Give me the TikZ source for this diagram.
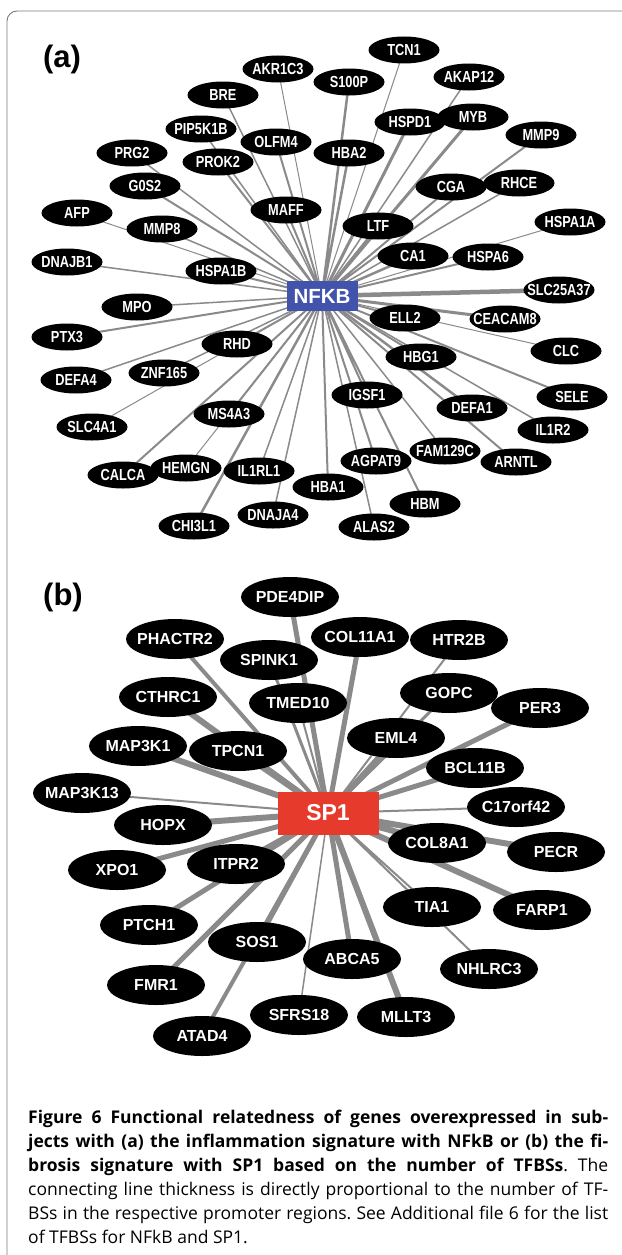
\documentclass[tikz,border=0pt]{standalone}
\usepackage{fontspec}
\usepackage{tikz}
\usetikzlibrary{shapes.geometric,backgrounds}
\newfontfamily\genefont{Liberation Sans}
\newfontfamily\narrowgenefont{Liberation Sans}[FakeStretch=0.8]
\newfontfamily\capfont{Open Sans}
\definecolor{linkgray}{HTML}{8A8A8A}
\definecolor{framegray}{HTML}{7A7A7A}
\definecolor{nfkbblue}{HTML}{4253AC}
\definecolor{spred}{HTML}{E63B2C}
\tikzset{
	gene/.style={ellipse,fill=black,text=white,inner sep=0pt,minimum width=71pt,minimum height=27pt,
		font=\narrowgenefont\bfseries\fontsize{16}{16}\selectfont,
		execute at begin node={\hbox to 0pt\bgroup\hss},execute at end node={\hss\egroup}},
	bgene/.style={ellipse,fill=black,text=white,inner sep=0pt,minimum width=98pt,minimum height=40pt,
		font=\genefont\bfseries\fontsize{16}{16}\selectfont,
		execute at begin node={\hbox to 0pt\bgroup\hss},execute at end node={\hss\egroup}},
	tf/.style 2 args={rectangle,fill=#1,text=white,inner sep=0pt,font=\genefont\bfseries\fontsize{#2}{#2}\selectfont},
	link/.style={draw=linkgray,line width=#1},
	panel/.style={font=\genefont\bfseries\fontsize{31}{31}\selectfont,inner sep=0pt}
}

\begin{document}
\begin{tikzpicture}[x=1pt,y=-1pt]
\useasboundingbox (0,0) rectangle (621,1255);
\draw[framegray,line width=0.9pt,rounded corners=10pt] (650,11) -- (7,11) -- (7,1265) -- (650,1265);

% (a) NFKB
\node[panel] (labela) at (62,59) {(a)};
\node[tf={nfkbblue}{20.5},minimum width=71pt,minimum height=30pt] (NFKB) at (322,296) {NFKB};

\node[gene] (TCN1) at (404,50) {TCN1};
\node[gene] (AKR1C3) at (278,69) {AKR1C3};
\node[gene] (S100P) at (349,82) {S100P};
\node[gene] (AKAP12) at (469,77) {AKAP12};
\node[gene] (BRE) at (223,95) {BRE};
\node[gene] (HSPD1) at (410,122) {HSPD1};
\node[gene] (MYB) at (473,117) {MYB};
\node[gene] (MMP9) at (541,135) {MMP9};
\node[gene] (PIP5K1B) at (201,129) {PIP5K1B};
\node[gene] (OLFM4) at (276,142) {OLFM4};
\node[gene] (PRG2) at (132,153) {PRG2};
\node[gene] (PROK2) at (218,162) {PROK2};
\node[gene] (HBA2) at (349,153) {HBA2};
\node[gene] (G0S2) at (145,186) {G0S2};
\node[gene] (CGA) at (451,187) {CGA};
\node[gene] (RHCE) at (519,183) {RHCE};
\node[gene] (MAFF) at (286,210) {MAFF};
\node[gene] (AFP) at (77,213) {AFP};
\node[gene] (MMP8) at (162,229) {MMP8};
\node[gene] (LTF) at (378,226) {LTF};
\node[gene] (HSPA1A) at (570,222) {HSPA1A};
\node[gene] (DNAJB1) at (67,262) {DNAJB1};
\node[gene] (HSPA1B) at (221,271) {HSPA1B};
\node[gene] (CA1) at (413,256) {CA1};
\node[gene] (HSPA6) at (488,257) {HSPA6};
\node[gene] (SLC25A37) at (559,290) {SLC25A37};
\node[gene] (MPO) at (137,307) {MPO};
\node[gene] (ELL2) at (405,318) {ELL2};
\node[gene] (CEACAM8) at (505,319) {CEACAM8};
\node[gene] (PTX3) at (67,337) {PTX3};
\node[gene] (RHD) at (237,344) {RHD};
\node[gene] (CLC) at (566,351) {CLC};
\node[gene] (HBG1) at (421,357) {HBG1};
\node[gene] (DEFA4) at (76,380) {DEFA4};
\node[gene] (ZNF165) at (164,373) {ZNF165};
\node[gene] (SELE) at (572,397) {SELE};
\node[gene] (IGSF1) at (367,395) {IGSF1};
\node[gene] (DEFA1) at (472,408) {DEFA1};
\node[gene] (MS4A3) at (229,414) {MS4A3};
\node[gene] (SLC4A1) at (92,427) {SLC4A1};
\node[gene] (IL1R2) at (553,430) {IL1R2};
\node[gene] (FAM129C) at (445,451) {FAM129C};
\node[gene] (AGPAT9) at (376,461) {AGPAT9};
\node[gene] (ARNTL) at (516,462) {ARNTL};
\node[gene] (CALCA) at (123,475) {CALCA};
\node[gene] (HEMGN) at (186,468) {HEMGN};
\node[gene] (IL1RL1) at (259,471) {IL1RL1};
\node[gene] (HBA1) at (328,487) {HBA1};
\node[gene] (HBM) at (425,504) {HBM};
\node[gene] (CHI3L1) at (194,526) {CHI3L1};
\node[gene] (DNAJA4) at (273,515) {DNAJA4};
\node[gene] (ALAS2) at (374,527) {ALAS2};

% (b) SP1
\node[panel] (labelb) at (63,597) {(b)};
\node[tf={spred}{23},minimum width=101pt,minimum height=43pt] (SP1) at (328,813) {SP1};

\node[bgene] (PDE4DIP) at (290,597) {PDE4DIP};
\node[bgene] (PHACTR2) at (175,639) {PHACTR2};
\node[bgene] (COL11A1) at (360,637) {COL11A1};
\node[bgene] (HTR2B) at (459,640) {HTR2B};
\node[bgene] (SPINK1) at (269,660) {SPINK1};
\node[bgene] (GOPC) at (449,693) {GOPC};
\node[bgene] (CTHRC1) at (168,697) {CTHRC1};
\node[bgene] (TMED10) at (298,703) {TMED10};
\node[bgene] (PER3) at (540,708) {PER3};
\node[bgene] (EML4) at (396,738) {EML4};
\node[bgene] (MAP3K1) at (138,746) {MAP3K1};
\node[bgene] (TPCN1) at (238,751) {TPCN1};
\node[bgene] (BCL11B) at (475,768) {BCL11B};
\node[bgene] (MAP3K13) at (82,793) {MAP3K13};
\node[bgene] (C17orf42) at (516,807) {C17orf42};
\node[bgene] (HOPX) at (163,825) {HOPX};
\node[bgene] (COL8A1) at (437,843) {COL8A1};
\node[bgene] (PECR) at (556,852) {PECR};
\node[bgene] (XPO1) at (117,870) {XPO1};
\node[bgene] (ITPR2) at (236,864) {ITPR2};
\node[bgene] (TIA1) at (432,907) {TIA1};
\node[bgene] (FARP1) at (542,910) {FARP1};
\node[bgene] (PTCH1) at (149,925) {PTCH1};
\node[bgene] (SOS1) at (257,942) {SOS1};
\node[bgene] (ABCA5) at (352,959) {ABCA5};
\node[bgene] (NHLRC3) at (489,969) {NHLRC3};
\node[bgene] (FMR1) at (156,985) {FMR1};
\node[bgene] (SFRS18) at (299,1015) {SFRS18};
\node[bgene] (MLLT3) at (406,1017) {MLLT3};
\node[bgene] (ATAD4) at (202,1036) {ATAD4};

\begin{pgfonlayer}{background}
\draw[link=1pt] (NFKB.center) -- (TCN1.center) (NFKB.center) -- (AKR1C3.center) (NFKB.center) -- (AFP.center)
	(NFKB.center) -- (HSPA1A.center) (NFKB.center) -- (CLC.center) (NFKB.center) -- (SLC4A1.center)
	(NFKB.center) -- (HEMGN.center);
\draw[link=1.5pt] (NFKB.center) -- (BRE.center) (NFKB.center) -- (PIP5K1B.center) (NFKB.center) -- (PRG2.center)
	(NFKB.center) -- (MMP8.center) (NFKB.center) -- (DNAJB1.center) (NFKB.center) -- (RHCE.center)
	(NFKB.center) -- (AKAP12.center) (NFKB.center) -- (MPO.center) (NFKB.center) -- (DEFA4.center)
	(NFKB.center) -- (ZNF165.center) (NFKB.center) -- (IL1R2.center) (NFKB.center) -- (FAM129C.center)
	(NFKB.center) -- (IL1RL1.center) (NFKB.center) -- (DNAJA4.center) (NFKB.center) -- (ALAS2.center);
\draw[link=2pt] (NFKB.center) -- (OLFM4.center) (NFKB.center) -- (PROK2.center) (NFKB.center) -- (G0S2.center)
	(NFKB.center) -- (MAFF.center) (NFKB.center) -- (HSPA1B.center) (NFKB.center) -- (CGA.center)
	(NFKB.center) -- (MMP9.center) (NFKB.center) -- (HSPA6.center) (NFKB.center) -- (ELL2.center)
	(NFKB.center) -- (RHD.center) (NFKB.center) -- (HBG1.center) (NFKB.center) -- (SELE.center)
	(NFKB.center) -- (IGSF1.center) (NFKB.center) -- (MS4A3.center) (NFKB.center) -- (AGPAT9.center)
	(NFKB.center) -- (ARNTL.center) (NFKB.center) -- (CALCA.center) (NFKB.center) -- (HBA1.center)
	(NFKB.center) -- (HBM.center) (NFKB.center) -- (PTX3.center);
\draw[link=2.5pt] (NFKB.center) -- (S100P.center) (NFKB.center) -- (HBA2.center) (NFKB.center) -- (LTF.center)
	(NFKB.center) -- (CA1.center) (NFKB.center) -- (DEFA1.center) (NFKB.center) -- (CHI3L1.center);
\draw[link=3pt] (NFKB.center) -- (HSPD1.center) (NFKB.center) -- (MYB.center) (NFKB.center) -- (CEACAM8.center);
\draw[link=4.5pt] (NFKB.center) -- (SLC25A37.center);

\draw[link=1.5pt] (SP1.center) -- (SFRS18.center);
\draw[link=2pt] (SP1.center) -- (HTR2B.center) (SP1.center) -- (TMED10.center) (SP1.center) -- (MAP3K13.center)
	(SP1.center) -- (C17orf42.center) (SP1.center) -- (TIA1.center) (SP1.center) -- (NHLRC3.center);
\draw[link=3pt] (SP1.center) -- (GOPC.center) (SP1.center) -- (SPINK1.center);
\draw[link=4pt] (SP1.center) -- (PHACTR2.center) (SP1.center) -- (ITPR2.center) (SP1.center) -- (ATAD4.center);
\draw[link=5pt] (SP1.center) -- (PDE4DIP.center) (SP1.center) -- (COL11A1.center) (SP1.center) -- (PER3.center)
	(SP1.center) -- (EML4.center) (SP1.center) -- (TPCN1.center) (SP1.center) -- (BCL11B.center)
	(SP1.center) -- (XPO1.center) (SP1.center) -- (PTCH1.center) (SP1.center) -- (SOS1.center)
	(SP1.center) -- (ABCA5.center) (SP1.center) -- (FMR1.center);
\draw[link=6pt] (SP1.center) -- (CTHRC1.center) (SP1.center) -- (MAP3K1.center) (SP1.center) -- (HOPX.center)
	(SP1.center) -- (COL8A1.center) (SP1.center) -- (PECR.center) (SP1.center) -- (FARP1.center)
	(SP1.center) -- (MLLT3.center);
\end{pgfonlayer}

% caption
\node[anchor=north west,inner sep=0pt,text width=580pt,align=justify,
	font=\capfont\fontsize{17.5}{24}\selectfont] (caption) at (28,1110)
	{\frenchspacing\hyphenpenalty=10000\textbf{Figure 6 Functional relatedness of genes overexpressed in sub-\linebreak
	jects with (a) the inflammation signature with NFkB or (b) the fi-\linebreak
	brosis signature with SP1 based on the number of TFBSs}. The\linebreak
	connecting line thickness is directly proportional to the number of TF-\linebreak
	BSs in the respective promoter regions. See Additional file 6 for the list\linebreak
	of TFBSs for NFkB and SP1.};
\end{tikzpicture}
\end{document}
